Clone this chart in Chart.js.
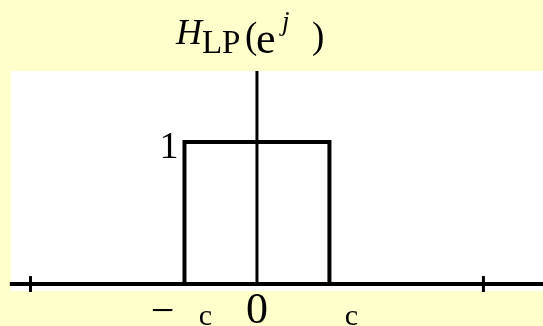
<!DOCTYPE html>
<html>
<head>
<meta charset="utf-8">
<script src="https://cdn.jsdelivr.net/npm/chart.js@4"></script>
<style>
  html, body { margin: 0; padding: 0; background: #ffffcc; }
  #wrap { width: 543px; height: 326px; }
</style>
</head>
<body>
<div id="wrap"><canvas id="chart"></canvas></div>
<script>
// frequency axis in units of pi
const xRange = [-1.086, 1.263];
const yRange = [-0.049, 1.5];
const piTicks = [-1, 1];
const cutoff = [-0.32, 0.32];
const gain = 1;

// ideal low-pass magnitude: 0 outside the band, 1 inside
const respX = [cutoff[0], cutoff[0], cutoff[1], cutoff[1]];
const respY = [0, gain, gain, 0];

const axisLabels = ["−", "0", ""];
const gainLabel = "1";

const black = "#000000";
const serif = "'Liberation Serif', 'Times New Roman', serif";

// ------------------------------------
// background + white plotting panel
// ------------------------------------
const panelPlugin = {
  id: "panel",
  beforeDraw(chart) {
    const { ctx, chartArea: a } = chart;
    ctx.save();
    ctx.fillStyle = "#ffffcc";
    ctx.fillRect(0, 0, chart.width, chart.height);
    ctx.fillStyle = "#ffffff";
    ctx.fillRect(a.left, a.top, a.right - a.left, a.bottom - a.top);
    ctx.restore();
  },
};

// ------------------------------------
// title and axis annotations
// ------------------------------------
const textPlugin = {
  id: "texts",
  afterDraw(chart) {
    const { ctx } = chart;
    const xs = chart.scales.x, ys = chart.scales.y;
    const x0 = xs.getPixelForValue(0);
    const yAxis = ys.getPixelForValue(0);
    const xl = xs.getPixelForValue(cutoff[0]);
    const xr = xs.getPixelForValue(cutoff[1]);
    ctx.save();
    ctx.fillStyle = black;
    ctx.textBaseline = "alphabetic";

    // H_LP(e^{j w})
    ctx.textAlign = "left";
    ctx.font = "italic 36px " + serif;
    ctx.fillText("H", x0 - 81, 44);
    ctx.font = "33px " + serif;
    ctx.fillText("LP", x0 - 55, 53);
    ctx.font = "37px " + serif;
    ctx.fillText("(", x0 - 12, 48);
    ctx.font = "44px " + serif;
    ctx.fillText("e", x0 - 1, 53);
    ctx.font = "italic 27px " + serif;
    ctx.fillText("j", x0 + 25, 30);
    ctx.font = "37px " + serif;
    ctx.fillText(")", x0 + 55, 48);

    // gain mark
    ctx.textAlign = "right";
    ctx.font = "38px " + serif;
    ctx.fillText(gainLabel, xl - 6, ys.getPixelForValue(gain) + 16);

    // frequency marks
    ctx.textAlign = "center";
    ctx.font = "42px " + serif;
    ctx.fillText(axisLabels[0], xl - 22, yAxis + 40);
    ctx.font = "44px " + serif;
    ctx.fillText(axisLabels[1], x0, yAxis + 39);
    ctx.font = "30px " + serif;
    ctx.fillText("c", xl + 21, yAxis + 41);
    ctx.fillText("c", xr + 22, yAxis + 41);
    ctx.restore();
  },
};

const line = (data, extra) => Object.assign({
  data,
  showLine: true,
  borderColor: black,
  borderWidth: 4,
  pointRadius: 0,
  borderJoinStyle: "miter",
  borderCapStyle: "butt",
  tension: 0,
}, extra || {});

const datasets = [
  // horizontal frequency axis
  line([{ x: xRange[0] - 0.005, y: 0 }, { x: xRange[1], y: 0 }], { clip: false }),
  // vertical axis
  line([{ x: 0, y: 0 }, { x: 0, y: yRange[1] }], { borderWidth: 3 }),
  // tick marks at -pi and pi
  ...piTicks.map((t) => line([{ x: t, y: -0.056 }, { x: t, y: 0.056 }], { clip: false, borderWidth: 3 })),
  // the pass band
  line(respX.map((x, i) => ({ x, y: respY[i] }))),
];

new Chart(document.getElementById("chart"), {
  type: "scatter",
  data: { datasets },
  options: {
    responsive: true,
    maintainAspectRatio: false,
    animation: false,
    layout: { padding: { left: 11, top: 71, right: 0, bottom: 35 } },
    plugins: { legend: { display: false }, tooltip: { enabled: false } },
    scales: {
      x: { type: "linear", display: false, min: xRange[0], max: xRange[1] },
      y: { type: "linear", display: false, min: yRange[0], max: yRange[1] },
    },
  },
  plugins: [panelPlugin, textPlugin],
});
</script>
</body>
</html>
